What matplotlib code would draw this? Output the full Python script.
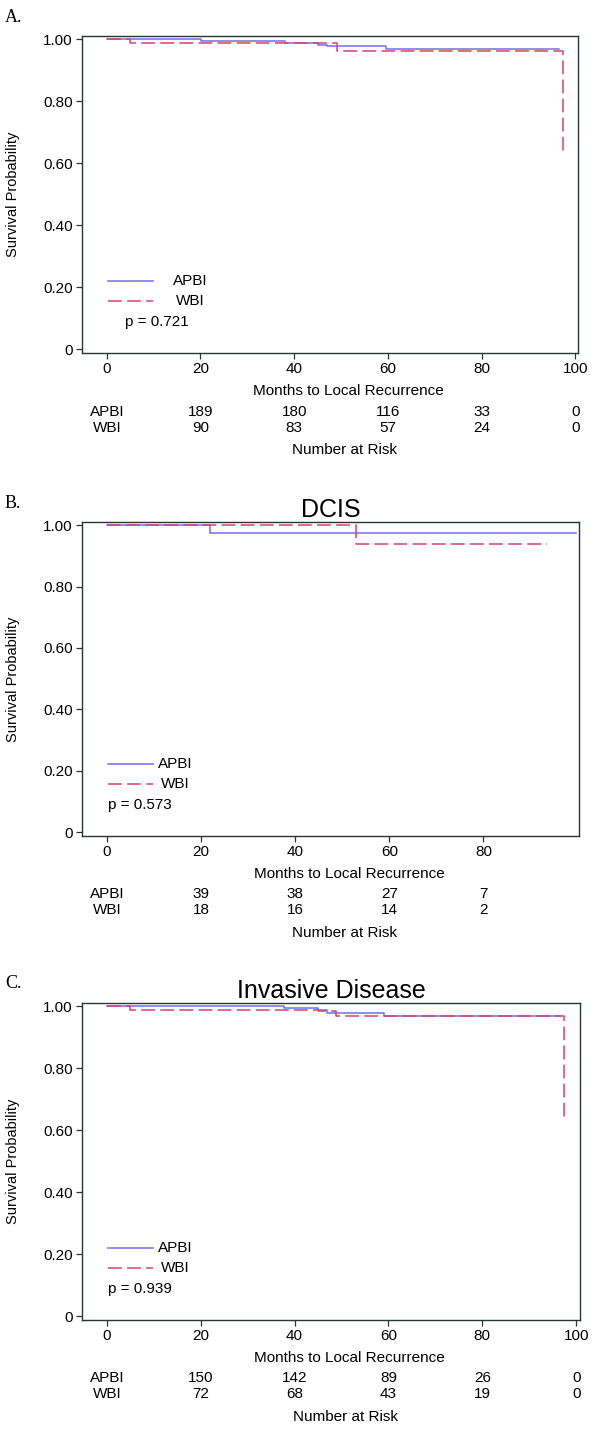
import numpy as np
import matplotlib
matplotlib.use("Agg")
import matplotlib.pyplot as plt

plt.rcParams['font.family'] = ['Liberation Sans', 'DejaVu Sans']

# ---- data ----
# panel A: all patients
a_apbi_t = [0, 20.1, 38.1, 45.1, 47.0, 59.5, 96.5]
a_apbi_s = [1.0, 0.994, 0.989, 0.981, 0.977, 0.969, 0.969]
a_wbi_t = [0, 4.9, 49.2, 97.4, 97.4, 97.8]
a_wbi_s = [1.0, 0.989, 0.961, 0.961, 0.64, 0.64]
a_risk_x = [20, 40, 60, 80, 100]
a_risk_apbi = [189, 180, 116, 33, 0]
a_risk_wbi = [90, 83, 57, 24, 0]

# panel B: DCIS
b_apbi_t = [0, 21.8, 99.6]
b_apbi_s = [1.0, 0.974, 0.974]
b_wbi_t = [0, 53.0, 93.5]
b_wbi_s = [1.0, 0.9375, 0.9375]
b_risk_x = [20, 40, 60, 80]
b_risk_apbi = [39, 38, 27, 7]
b_risk_wbi = [18, 16, 14, 2]

# panel C: invasive disease
c_apbi_t = [0, 37.7, 45.0, 46.8, 59.1, 96.5]
c_apbi_s = [1.0, 0.993, 0.988, 0.977, 0.967, 0.967]
c_wbi_t = [0, 4.9, 45.0, 48.8, 97.3, 97.3, 97.7]
c_wbi_s = [1.0, 0.986, 0.984, 0.967, 0.967, 0.644, 0.644]
c_risk_x = [20, 40, 60, 80, 100]
c_risk_apbi = [150, 142, 89, 26, 0]
c_risk_wbi = [72, 68, 43, 19, 0]

panels = [
    dict(letter="A.", title=None, p="p = 0.721", box=(82, 578, 36, 353), xlim=(-5.3, 100.6),
         xticks=[0, 20, 40, 60, 80, 100], apbi=(a_apbi_t, a_apbi_s), wbi=(a_wbi_t, a_wbi_s),
         risk=(a_risk_x, a_risk_apbi, a_risk_wbi), leg_gap=20),
    dict(letter="B.", title="DCIS", p="p = 0.573", box=(82, 579, 522, 836), xlim=(-5.3, 100.3),
         xticks=[0, 20, 40, 60, 80], apbi=(b_apbi_t, b_apbi_s), wbi=(b_wbi_t, b_wbi_s),
         risk=(b_risk_x, b_risk_apbi, b_risk_wbi), leg_gap=5),
    dict(letter="C.", title="Invasive Disease", p="p = 0.939", box=(82, 580, 1003, 1320), xlim=(-5.3, 100.8),
         xticks=[0, 20, 40, 60, 80, 100], apbi=(c_apbi_t, c_apbi_s), wbi=(c_wbi_t, c_wbi_s),
         risk=(c_risk_x, c_risk_apbi, c_risk_wbi), leg_gap=5),
]

W, H = 600, 1432
blue = '#6f6ff0'
red = '#d8406e'
spine_c = '#2a3535'
fs = 11

fig = plt.figure(figsize=(W / 100, H / 100), dpi=100)

for pn in panels:
    l, r, t, b = pn["box"]
    ax = fig.add_axes([l / W, 1 - b / H, (r - l) / W, (b - t) / H])
    h = b - t
    w = r - l

    ax.plot(*pn["apbi"], drawstyle='steps-post', color=blue, lw=1.1)
    ax.plot(*pn["wbi"], drawstyle='steps-post', color=red, lw=1.1, dashes=(9, 3.5))

    ax.set_xlim(*pn["xlim"])
    ax.set_ylim(-0.012, 1.01)
    ax.set_xticks(pn["xticks"])
    ax.set_yticks([0, 0.2, 0.4, 0.6, 0.8, 1.0])
    ax.set_yticklabels(["0", "0.20", "0.40", "0.60", "0.80", "1.00"])
    ax.tick_params(direction='out', length=4.5, width=0.9, colors=spine_c, labelcolor='black',
                   labelsize=fs, pad=2.0)
    for s in ax.spines.values():
        s.set_color(spine_c)
        s.set_linewidth(1.0)

    ax.text((13 - l) / w, 0.5, "Survival Probability", rotation=90, ha='center', va='center',
            fontsize=10.5, transform=ax.transAxes)

    # legend drawn by hand
    x0 = (108 - l) / w
    x1 = (153 - l) / w
    ya = 0.228
    yw = 0.165
    ax.plot([x0, x1], [ya, ya], color=blue, lw=1.1, transform=ax.transAxes)
    ax.plot([x0, x1], [yw, yw], color=red, lw=1.1, dashes=(9, 3.5), transform=ax.transAxes)
    tx = x1 + pn["leg_gap"] / w
    ax.text(tx, ya, "APBI", va='center', ha='left', fontsize=fs, transform=ax.transAxes)
    ax.text(tx + 3 / w, yw, "WBI", va='center', ha='left', fontsize=fs, transform=ax.transAxes)
    px = (125 - l) / w if pn["letter"] == "A." else (108 - l) / w
    ax.text(px, 0.098, pn["p"], va='center', ha='left', fontsize=fs, transform=ax.transAxes)

    # axis label and number-at-risk table below the axes
    xt = ax.get_xaxis_transform()
    mid = np.mean(pn["xlim"]) + 4
    ax.text(mid, -38 / h, "Months to Local Recurrence", ha='center', va='center', fontsize=fs, transform=xt)
    rx, ra, rw = pn["risk"]
    ax.text(0, -58.5 / h, "APBI", ha='center', va='center', fontsize=fs, transform=xt)
    ax.text(0, -74.5 / h, "WBI", ha='center', va='center', fontsize=fs, transform=xt)
    for xv, va_, vw_ in zip(rx, ra, rw):
        ax.text(xv, -58.5 / h, str(va_), ha='center', va='center', fontsize=fs, transform=xt)
        ax.text(xv, -74.5 / h, str(vw_), ha='center', va='center', fontsize=fs, transform=xt)
    ax.text(mid - 1, -97 / h, "Number at Risk", ha='center', va='center', fontsize=fs, transform=xt)

    if pn["title"]:
        ax.text(0.5, 1 + 5 / h, pn["title"], ha='center', va='baseline', fontsize=18, transform=ax.transAxes)

    fig.text(5 / W, 1 - (t - 19) / H, pn["letter"], ha='left', va='center', fontsize=13,
             family='Liberation Serif')

fig.savefig("out.png", dpi=100)
